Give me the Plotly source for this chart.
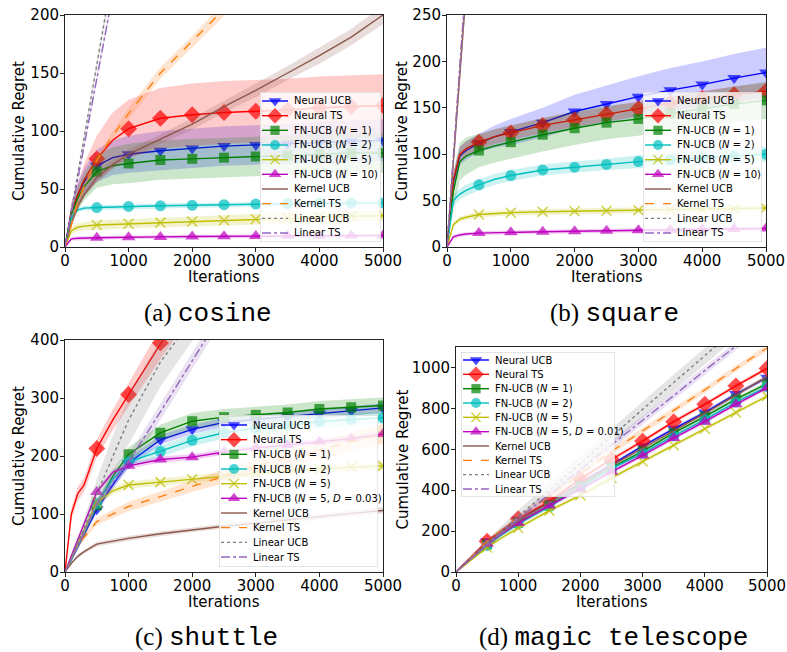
import plotly.graph_objects as go

W, H = 787, 652

# Iteration grid where values were read
XS = [0, 100, 200, 300, 500, 750, 1000, 1500, 2000, 2500, 3000, 3500, 4000, 4500, 5000]

SERIES = ["Neural UCB", "Neural TS", "FN-UCB (<i>N</i> = 1)", "FN-UCB (<i>N</i> = 2)",
          "FN-UCB (<i>N</i> = 5)", "FN-UCB (<i>N</i> = 10)", "Kernel UCB", "Kernel TS",
          "Linear UCB", "Linear TS"]
SERIES_C = SERIES[:5] + ["FN-UCB (<i>N</i> = 5, <i>D</i> = 0.03)"] + SERIES[6:]
SERIES_D = SERIES[:5] + ["FN-UCB (<i>N</i> = 5, <i>D</i> = 0.01)"] + SERIES[6:]

# ---------------- (a) cosine ----------------
COS_NEURAL_UCB = [0, 30, 45, 56, 70, 77, 80, 83, 85, 87, 88, 89, 90, 91, 92]
COS_NEURAL_TS = [0, 30, 45, 58, 76, 92, 102, 111, 114, 116, 117, 118, 120, 121, 122]
COS_FN1 = [0, 28, 42, 52, 65, 70, 72, 75, 76, 77, 78, 79, 80, 81, 81]
COS_FN2 = [0, 25, 32, 33.5, 34, 34.5, 35, 35.5, 36, 36.5, 37, 37.5, 38, 38, 38]
COS_FN5 = [0, 14, 17, 18, 19, 19.5, 20, 21, 22, 23, 24, 25, 26, 26.5, 27]
COS_FN10 = [0, 7, 7.5, 7.8, 8, 8.2, 8.5, 8.7, 9, 9.2, 9.4, 9.6, 9.8, 9.9, 10]
COS_KUCB = [0, 20, 35, 45, 60, 71, 80, 93, 106, 121, 135, 150, 165, 181, 200]
COS_KTS = [0, 20, 38, 52, 75, 96, 115, 150, 177, 205, 235, 262, 290, 318, 345]
COS_LUCB = [0, 32, 63, 94, 157, 236, 313, 470, 625, 783, 940, 1095, 1253, 1410, 1566]
COS_LTS = [0, 29, 58, 87, 145, 218, 290, 435, 581, 725, 870, 1016, 1160, 1305, 1450]
COS_NEURAL_UCB_SD = [0, 8, 10, 12, 14, 15, 16, 17, 17, 17, 17, 17, 18, 18, 18]
COS_NEURAL_TS_SD = [0, 8, 10, 14, 20, 24, 25, 26, 27, 27, 27, 27, 27, 27, 27]
COS_FN1_SD = [0, 8, 10, 12, 14, 16, 17, 17, 17, 17, 17, 17, 17, 17, 17]
COS_FN2_SD = [0, 2, 2, 2, 2, 2, 2, 2, 2, 2, 2, 2, 2, 2, 2]
COS_FN5_SD = [0, 3, 3.5, 3.5, 4, 4, 4, 4, 4, 4.5, 4.5, 5, 5, 5, 5]
COS_FN10_SD = [0, 1.5, 1.5, 1.5, 1.5, 1.5, 1.5, 1.5, 1.5, 1.5, 1.5, 1.5, 1.5, 1.5, 1.5]
COS_KUCB_SD = [0, 2, 3, 3, 4, 4, 4, 4, 5, 5, 6, 6, 7, 7, 8]
COS_KTS_SD = [0, 2, 3, 3, 4, 4, 5, 5, 5, 6, 6, 6, 6, 6, 6]
COS_LUCB_SD = [0, 2, 3, 3, 4, 5, 6, 8, 10, 12, 14, 16, 18, 20, 22]
COS_LTS_SD = [0, 2, 3, 3, 4, 5, 6, 8, 10, 12, 14, 16, 18, 20, 22]

# ---------------- (b) square ----------------
SQ_NEURAL_UCB = [0, 70, 98, 104, 112, 119, 124, 134, 146, 154, 162, 169, 175, 182, 188]
SQ_NEURAL_TS = [0, 72, 100, 106, 113, 119, 123, 131, 137, 143, 149, 155, 160, 164, 168]
SQ_FN1 = [0, 60, 92, 98, 104, 109, 113, 121, 128, 134, 138, 144, 149, 154, 158]
SQ_FN2 = [0, 50, 57, 61, 67, 73, 77, 83, 86, 89, 92, 94, 96, 98, 100]
SQ_FN5 = [0, 24, 30, 32, 35, 36, 37, 38, 38.5, 39, 39.5, 40, 40.5, 41, 42]
SQ_FN10 = [0, 11, 13, 14, 15, 15.5, 16, 16.5, 17, 17.5, 18, 18.5, 19, 19.5, 20]
SQ_KUCB = [0, 92, 185, 277, 460, 690, 920, 1380, 1840, 2300, 2760, 3220, 3680, 4140, 4600]
SQ_KTS = [0, 96, 192, 288, 480, 720, 960, 1440, 1920, 2400, 2880, 3360, 3840, 4320, 4800]
SQ_LUCB = [0, 94, 188, 282, 470, 705, 940, 1410, 1880, 2350, 2820, 3290, 3760, 4230, 4700]
SQ_LTS = [0, 97, 194, 291, 485, 727, 970, 1455, 1940, 2425, 2910, 3395, 3880, 4365, 4850]
SQ_NEURAL_UCB_SD = [0, 10, 10, 10, 10, 12, 14, 16, 18, 20, 22, 24, 25, 26, 27]
SQ_NEURAL_TS_SD = [0, 8, 8, 8, 8, 8, 8, 8, 8, 8, 8, 8, 8, 9, 9]
SQ_FN1_SD = [0, 20, 20, 20, 18, 18, 18, 18, 18, 18, 18, 18, 18, 19, 20]
SQ_FN2_SD = [0, 6, 6, 6, 6, 6, 6, 6, 6, 6, 7, 7, 8, 8, 8]
SQ_FN5_SD = [0, 3, 3, 3, 3, 3, 3, 3, 3, 3, 3, 3, 3, 3, 3]
SQ_FN10_SD = [0, 2, 2, 2, 2, 2, 2, 2, 2, 2, 2, 2, 2, 2, 2]
SQ_KUCB_SD = [0, 5, 8, 10, 15, 20, 25, 30, 35, 40, 45, 50, 55, 60, 65]
SQ_KTS_SD = [0, 5, 8, 10, 15, 20, 25, 30, 35, 40, 45, 50, 55, 60, 65]
SQ_LUCB_SD = [0, 5, 8, 10, 15, 20, 25, 30, 35, 40, 45, 50, 55, 60, 65]
SQ_LTS_SD = [0, 5, 8, 10, 15, 20, 25, 30, 35, 40, 45, 50, 55, 60, 65]

# ---------------- (c) shuttle ----------------
SH_NEURAL_UCB = [0, 22, 44, 65, 108, 150, 188, 228, 246, 258, 263, 268, 273, 278, 283]
SH_NEURAL_TS = [0, 100, 135, 150, 213, 262, 306, 395, 480, 560, 640, 720, 800, 880, 960]
SH_FN1 = [0, 22, 44, 68, 115, 165, 203, 240, 260, 267, 271, 275, 281, 284, 287]
SH_FN2 = [0, 22, 45, 68, 118, 160, 190, 208, 227, 240, 248, 253, 259, 263, 266]
SH_FN5 = [0, 24, 48, 72, 120, 140, 150, 155, 160, 165, 170, 175, 178, 181, 183]
SH_FN5D = [0, 28, 56, 84, 138, 172, 183, 194, 198, 207, 214, 219, 225, 230, 238]
SH_KUCB = [0, 15, 27, 35, 48, 53, 58, 66, 73, 79, 84, 90, 96, 101, 106]
SH_KTS = [0, 25, 45, 60, 87, 100, 113, 130, 148, 165, 183, 197, 210, 225, 238]
SH_LUCB = [0, 25, 50, 75, 135, 200, 262, 362, 440, 510, 580, 650, 720, 790, 860]
SH_LTS = [0, 22, 45, 68, 118, 155, 190, 276, 365, 452, 530, 610, 690, 770, 850]
SH_NEURAL_UCB_SD = [0, 4, 5, 5, 6, 7, 8, 8, 8, 8, 8, 8, 8, 8, 8]
SH_NEURAL_TS_SD = [0, 10, 12, 12, 15, 18, 20, 28, 35, 40, 45, 50, 55, 60, 65]
SH_FN1_SD = [0, 4, 5, 6, 8, 10, 12, 14, 14, 14, 14, 14, 14, 14, 14]
SH_FN2_SD = [0, 4, 5, 6, 8, 9, 10, 10, 10, 10, 10, 10, 10, 10, 10]
SH_FN5_SD = [0, 3, 4, 5, 6, 6, 6, 6, 6, 6, 6, 6, 6, 6, 6]
SH_FN5D_SD = [0, 4, 4, 5, 5, 5, 5, 5, 5, 5, 5, 5, 5, 5, 5]
SH_KUCB_SD = [0, 2, 3, 3, 4, 4, 4, 4, 4, 4, 5, 5, 5, 5, 5]
SH_KTS_SD = [0, 3, 4, 5, 6, 7, 8, 9, 10, 12, 13, 14, 15, 16, 17]
SH_LUCB_SD = [0, 5, 10, 15, 25, 35, 42, 42, 42, 42, 42, 42, 42, 42, 42]
SH_LTS_SD = [0, 3, 4, 5, 8, 10, 12, 14, 15, 15, 15, 15, 15, 15, 15]

# ---------------- (d) magic telescope ----------------
MT_NEURAL_UCB = [0, 30, 60, 90, 150, 205, 255, 340, 435, 525, 615, 700, 780, 870, 950]
MT_NEURAL_TS = [0, 30, 60, 90, 150, 207, 260, 345, 455, 550, 640, 735, 820, 910, 995]
MT_FN1 = [0, 27, 54, 81, 135, 190, 240, 325, 420, 510, 590, 680, 760, 845, 920]
MT_FN2 = [0, 26, 52, 78, 130, 185, 235, 320, 415, 505, 580, 665, 745, 830, 905]
MT_FN5 = [0, 24, 48, 72, 120, 170, 215, 300, 375, 460, 540, 620, 700, 780, 860]
MT_FN5D = [0, 28, 55, 83, 138, 190, 240, 325, 405, 490, 570, 655, 735, 820, 900]
MT_KUCB = [0, 29, 57, 85, 142, 197, 250, 340, 430, 520, 605, 690, 775, 865, 955]
MT_KTS = [0, 30, 60, 90, 150, 210, 265, 370, 480, 590, 690, 790, 890, 995, 1095]
MT_LUCB = [0, 28, 56, 82, 140, 205, 272, 400, 530, 662, 795, 925, 1055, 1185, 1320]
MT_LTS = [0, 27, 53, 80, 133, 195, 260, 380, 500, 620, 740, 862, 985, 1105, 1225]
MT_NEURAL_UCB_SD = [0, 3, 5, 6, 8, 9, 10, 10, 10, 10, 10, 10, 10, 10, 10]
MT_NEURAL_TS_SD = [0, 3, 5, 6, 8, 9, 10, 10, 10, 10, 10, 10, 10, 10, 10]
MT_FN1_SD = [0, 3, 5, 6, 8, 9, 10, 10, 10, 10, 10, 10, 10, 10, 10]
MT_FN2_SD = [0, 3, 5, 6, 8, 9, 10, 10, 10, 10, 10, 10, 10, 10, 10]
MT_FN5_SD = [0, 3, 5, 6, 8, 9, 10, 10, 10, 10, 10, 10, 10, 10, 10]
MT_FN5D_SD = [0, 3, 5, 6, 8, 9, 10, 10, 10, 10, 10, 10, 10, 10, 10]
MT_KUCB_SD = [0, 3, 5, 6, 8, 9, 10, 10, 10, 10, 10, 10, 10, 10, 10]
MT_KTS_SD = [0, 3, 5, 6, 8, 10, 12, 13, 14, 15, 15, 15, 15, 15, 15]
MT_LUCB_SD = [0, 5, 10, 12, 18, 24, 30, 35, 38, 40, 40, 40, 40, 40, 40]
MT_LTS_SD = [0, 4, 6, 8, 10, 12, 15, 18, 20, 20, 20, 20, 20, 20, 20]

# ---------------- styles ----------------
COLORS = ["#0000ff", "#ff0000", "#008000", "#00bfbf", "#bfbf00", "#bf00bf",
          "#8c564b", "#ff7f0e", "#7f7f7f", "#9467bd"]
SYMBOLS = ["triangle-down", "diamond", "square", "circle", "x-thin", "triangle-up",
           None, None, None, None]
MSIZES = [12, 13, 10, 11, 10, 12, 0, 0, 0, 0]
DASHES = ["solid"] * 7 + ["dash", "dot", "dashdot"]
FONT = "DejaVu Sans"


def rgba(hexc, a):
    h = hexc.lstrip("#")
    r, g, b = int(h[0:2], 16), int(h[2:4], 16), int(h[4:6], 16)
    return f"rgba({r},{g},{b},{a})"


def xdom(a, b):
    return [a / W, b / W]


def ydom(top, bot):
    return [1 - bot / H, 1 - top / H]


PANELS = [
    dict(means=[COS_NEURAL_UCB, COS_NEURAL_TS, COS_FN1, COS_FN2, COS_FN5, COS_FN10,
                COS_KUCB, COS_KTS, COS_LUCB, COS_LTS],
         sds=[COS_NEURAL_UCB_SD, COS_NEURAL_TS_SD, COS_FN1_SD, COS_FN2_SD, COS_FN5_SD,
              COS_FN10_SD, COS_KUCB_SD, COS_KTS_SD, COS_LUCB_SD, COS_LTS_SD],
         names=SERIES, xd=(65, 383), yd=(15, 247), yr=[0, 200], dt=50,
         box=(260, 92, 381, 242), pad=9),
    dict(means=[SQ_NEURAL_UCB, SQ_NEURAL_TS, SQ_FN1, SQ_FN2, SQ_FN5, SQ_FN10,
                SQ_KUCB, SQ_KTS, SQ_LUCB, SQ_LTS],
         sds=[SQ_NEURAL_UCB_SD, SQ_NEURAL_TS_SD, SQ_FN1_SD, SQ_FN2_SD, SQ_FN5_SD,
              SQ_FN10_SD, SQ_KUCB_SD, SQ_KTS_SD, SQ_LUCB_SD, SQ_LTS_SD],
         names=SERIES, xd=(447, 766), yd=(15, 247), yr=[0, 250], dt=50,
         box=(643, 92, 762, 242), pad=9),
    dict(means=[SH_NEURAL_UCB, SH_NEURAL_TS, SH_FN1, SH_FN2, SH_FN5, SH_FN5D,
                SH_KUCB, SH_KTS, SH_LUCB, SH_LTS],
         sds=[SH_NEURAL_UCB_SD, SH_NEURAL_TS_SD, SH_FN1_SD, SH_FN2_SD, SH_FN5_SD,
              SH_FN5D_SD, SH_KUCB_SD, SH_KTS_SD, SH_LUCB_SD, SH_LTS_SD],
         names=SERIES_C, xd=(65, 383), yd=(340, 572), yr=[0, 400], dt=100,
         box=(219, 415, 378, 567), pad=10),
    dict(means=[MT_NEURAL_UCB, MT_NEURAL_TS, MT_FN1, MT_FN2, MT_FN5, MT_FN5D,
                MT_KUCB, MT_KTS, MT_LUCB, MT_LTS],
         sds=[MT_NEURAL_UCB_SD, MT_NEURAL_TS_SD, MT_FN1_SD, MT_FN2_SD, MT_FN5_SD,
              MT_FN5D_SD, MT_KUCB_SD, MT_KTS_SD, MT_LUCB_SD, MT_LTS_SD],
         names=SERIES_D, xd=(456, 767), yd=(347, 572), yr=[0, 1100], dt=200,
         box=(461, 352, 615, 497), pad=8),
]

fig = go.Figure()
layout = dict(
    width=W, height=H, margin=dict(l=0, r=0, t=0, b=0, autoexpand=False),
    paper_bgcolor="white", plot_bgcolor="rgba(0,0,0,0)", showlegend=False,
    font=dict(family=FONT, size=15, color="black"),
    annotations=[],
)

axstyle = dict(showline=True, mirror=True, linecolor="#222", linewidth=1,
               ticks="outside", ticklen=4, tickcolor="#222", showgrid=False,
               zeroline=False, tickfont=dict(family=FONT, size=15, color="black"))

# ---- data subplots (1..4) ----
for pi, p in enumerate(PANELS):
    k = "" if pi == 0 else str(pi + 1)
    xa, ya = "x" + k, "y" + k
    for si in range(10):
        m, sd, c = p["means"][si], p["sds"][si], COLORS[si]
        lo = [a - b for a, b in zip(m, sd)]
        hi = [a + b for a, b in zip(m, sd)]
        fig.add_trace(go.Scatter(
            x=XS + XS[::-1], y=hi + lo[::-1], fill="toself", mode="lines",
            line=dict(width=0), fillcolor=rgba(c, 0.2), showlegend=False,
            hoverinfo="skip", xaxis=xa, yaxis=ya))
        tr = go.Scatter(x=XS, y=m, name=p["names"][si], mode="lines",
                        line=dict(color=c, width=1.4, dash=DASHES[si]),
                        xaxis=xa, yaxis=ya, showlegend=False)
        if SYMBOLS[si]:
            sizes = [MSIZES[si] if (x > 0 and x % 500 == 0) else 0 for x in XS]
            tr.mode = "lines+markers"
            tr.marker = dict(symbol=SYMBOLS[si], size=sizes, color=c,
                             line=dict(width=1.5 if SYMBOLS[si] == "x-thin" else 0,
                                       color=c))
        fig.add_trace(tr)

    layout["xaxis" + k] = dict(domain=xdom(*p["xd"]), range=[0, 5000], dtick=1000,
                               anchor=ya, ticklabelstandoff=-4, **axstyle)
    layout["yaxis" + k] = dict(domain=ydom(*p["yd"]), range=p["yr"], dtick=p["dt"],
                               anchor=xa, ticklabelstandoff=-2, **axstyle)

    cx = (p["xd"][0] + p["xd"][1]) / 2
    cy = (p["yd"][0] + p["yd"][1]) / 2
    xt_y = 277 if pi < 2 else 602
    yt_x = 19 if pi % 2 == 0 else 402
    layout["annotations"].append(dict(
        text="Iterations", x=cx / W, y=1 - xt_y / H, xref="paper", yref="paper",
        showarrow=False, xanchor="center", yanchor="middle",
        font=dict(family=FONT, size=15, color="black")))
    layout["annotations"].append(dict(
        text="Cumulative Regret", x=yt_x / W, y=1 - cy / H, xref="paper", yref="paper",
        showarrow=False, xanchor="center", yanchor="middle", textangle=-90,
        font=dict(family=FONT, size=15, color="black")))

# ---- legend boxes (subplots 5..8, drawn above the data) ----
for pi, p in enumerate(PANELS):
    k = str(pi + 5)
    xa, ya = "x" + k, "y" + k
    l, t, r, b = p["box"]
    bw, bh = r - l, b - t
    pad = p["pad"]
    step = (bh - 2 * pad) / 9
    fig.add_trace(go.Scatter(
        x=[0, bw, bw, 0, 0], y=[0, 0, bh, bh, 0], mode="lines", fill="toself",
        fillcolor="rgba(255,255,255,0.8)", line=dict(color="#cccccc", width=1),
        hoverinfo="skip", showlegend=False, xaxis=xa, yaxis=ya))
    for si in range(10):
        yi = pad + si * step
        c = COLORS[si]
        tr = go.Scatter(x=[2, 15, 28], y=[yi, yi, yi], mode="lines",
                        line=dict(color=c, width=1.4, dash=DASHES[si]),
                        hoverinfo="skip", showlegend=False, xaxis=xa, yaxis=ya)
        if SYMBOLS[si]:
            tr.mode = "lines+markers"
            tr.marker = dict(symbol=SYMBOLS[si], size=[0, MSIZES[si] * 0.92, 0], color=c,
                             line=dict(width=1.5 if SYMBOLS[si] == "x-thin" else 0,
                                       color=c))
        fig.add_trace(tr)
        layout["annotations"].append(dict(
            text=p["names"][si], x=32, y=yi, xref=xa, yref=ya, showarrow=False,
            xanchor="left", yanchor="middle",
            font=dict(family=FONT, size=10, color="black")))
    layout["xaxis" + k] = dict(domain=xdom(l, r), range=[0, bw], visible=False,
                               anchor=ya, fixedrange=True)
    layout["yaxis" + k] = dict(domain=ydom(t, b), range=[bh, 0], visible=False,
                               anchor=xa, fixedrange=True)

# ---- sub-figure captions ----
CAPTIONS = [("(a)", "cosine", 142, 314), ("(b)", "square", 548, 314),
            ("(c)", "shuttle", 133, 638), ("(d)", "magic telescope", 477, 638)]
for lab, word, cxp, cyp in CAPTIONS:
    layout["annotations"].append(dict(
        text=f"{lab} <span style='font-family:Liberation Mono;font-size:26px'>{word}</span>",
        x=cxp / W, y=1 - cyp / H, xref="paper", yref="paper", showarrow=False,
        xanchor="left", yanchor="middle",
        font=dict(family="Liberation Serif", size=25, color="black")))

fig.update_layout(**layout)
fig.write_html("out.html", config={"displayModeBar": False},
               post_script="document.body.style.margin='0px';document.body.style.padding='0px';")
